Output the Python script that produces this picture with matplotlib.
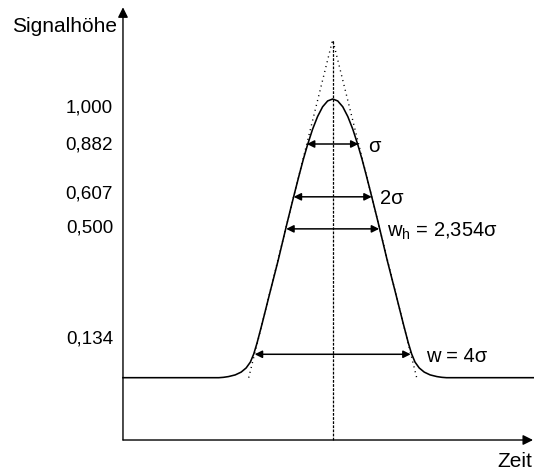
import numpy as np
import matplotlib
matplotlib.use("Agg")
import matplotlib.pyplot as plt

plt.rcParams['font.family'] = ['Liberation Sans', 'DejaVu Sans']
plt.rcParams['mathtext.fontset'] = 'custom'
plt.rcParams['mathtext.rm'] = 'Liberation Sans'
plt.rcParams['mathtext.it'] = 'Liberation Sans'

# ---- data (x in units of sigma, y as fraction of peak height) ----
# right half of the peak profile (mirrored for the left half)
profile_x = [0.00, 0.12, 0.24, 0.36, 0.48, 0.60, 0.70, 0.80, 0.90, 1.00, 1.10, 1.30,
             1.50, 1.68, 1.80, 1.88, 1.96, 2.06, 2.18, 2.32, 2.48, 2.60, 2.71]
profile_y = [1.000, 0.993, 0.972, 0.937, 0.891, 0.835, 0.783, 0.726, 0.667, 0.607, 0.546, 0.420,
             0.302, 0.194, 0.125, 0.085, 0.056, 0.035, 0.020, 0.010, 0.004, 0.0013, 0.000]
baseline_x = [-4.993, 4.80]
tick_labels = ["1,000", "0,882", "0,607", "0,500", "0,134"]
tick_label_y = [0.974, 0.842, 0.668, 0.5425, 0.146]
arrow_heights = [0.8385, 0.649, 0.534, 0.084]
arrow_half_widths = [0.615, 0.93, 1.107, 1.857]
arrow_texts = ["σ", "2σ", r"w$_\mathrm{h}$ = 2,354σ", "w = 4σ"]
arrow_text_x = [0.84, 1.126, 1.286, 2.22]
tangent_x = [-2.0, 0.0, 2.0]
tangent_y = [0.0, 1.213, 0.0]
x_axis_label = "Zeit"
y_axis_label = "Signalhöhe"

fig = plt.figure(figsize=(5.34, 4.72), dpi=100)
ax = fig.add_axes([0, 0, 1, 1])
ax.set_xlim(-7.921, 4.793)
ax.set_ylim(-0.3384, 1.3552)
ax.axis('off')

x_axis_y = -0.2236
px = np.array(profile_x)
py = np.array(profile_y)
curve_x = np.concatenate([[baseline_x[0]], -px[::-1], px[1:], [baseline_x[1]]])
curve_y = np.concatenate([[0.0], py[::-1], py[1:], [0.0]])
ax.plot(curve_x, curve_y, color='black', lw=1.15, solid_joinstyle='round')

# tangent lines
ax.plot(tangent_x, tangent_y, color='black', lw=1.0, linestyle=(0, (0.8, 2.8)))
# center line
ax.plot([0, 0], [x_axis_y, tangent_y[1]], color='black', lw=0.9, linestyle=(0, (2.2, 1.1)))

# axes with arrows
ax.annotate('', xy=(baseline_x[0], 1.329), xytext=(baseline_x[0], x_axis_y),
            arrowprops=dict(arrowstyle='-|>', color='black', lw=1.0,
                            mutation_scale=15, shrinkA=0, shrinkB=0))
ax.annotate('', xy=(4.77, x_axis_y), xytext=(baseline_x[0], x_axis_y),
            arrowprops=dict(arrowstyle='-|>', color='black', lw=1.0,
                            mutation_scale=15, shrinkA=0, shrinkB=0))

# width arrows
for h, hw, t, tx in zip(arrow_heights, arrow_half_widths, arrow_texts, arrow_text_x):
    ax.annotate('', xy=(hw, h), xytext=(-hw, h),
                arrowprops=dict(arrowstyle='<|-|>', color='black', lw=1.1,
                                mutation_scale=11, shrinkA=0, shrinkB=0))
    ax.text(tx, h, t, fontsize=14.5, ha='left', va='center_baseline')

# tick labels
for lab, ty in zip(tick_labels, tick_label_y):
    ax.text(-5.23, ty, lab, fontsize=13.6, ha='right', va='center_baseline')

ax.text(-5.13, 1.267, y_axis_label, fontsize=15, ha='right', va='center_baseline')
ax.text(4.745, -0.294, x_axis_label, fontsize=15, ha='right', va='center_baseline')

fig.savefig('out.png', dpi=100)
